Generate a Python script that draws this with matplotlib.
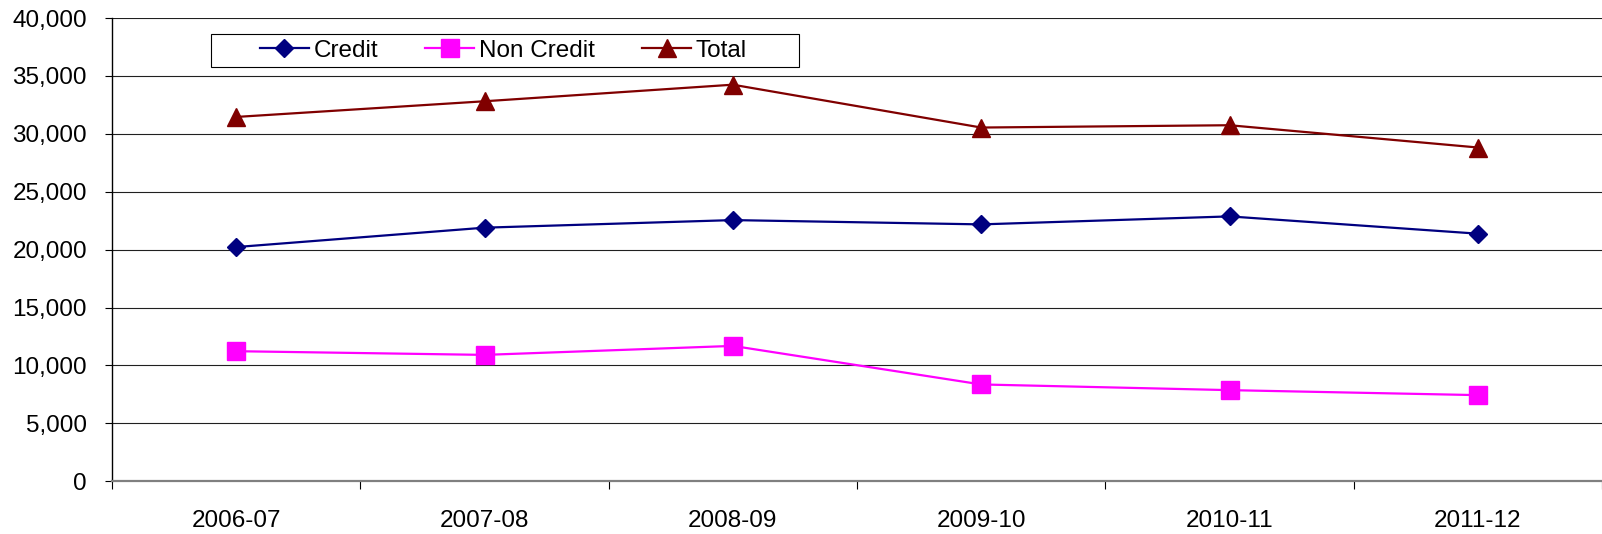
import matplotlib
matplotlib.use('Agg')
import matplotlib.pyplot as plt
from matplotlib.ticker import FixedLocator, StrMethodFormatter, NullFormatter
from matplotlib.patches import Rectangle

years = ['2006-07', '2007-08', '2008-09', '2009-10', '2010-11', '2011-12']
credit = [20224, 21897, 22552, 22181, 22871, 21379]
non_credit = [11233, 10914, 11690, 8362, 7871, 7440]
total = [31457, 32811, 34242, 30543, 30742, 28819]

plt.rcParams['font.family'] = ['Liberation Sans', 'DejaVu Sans']
plt.rcParams['font.size'] = 17.5

fig = plt.figure(figsize=(16.02, 5.34), dpi=100)
W, H = 1602, 534
ax = fig.add_axes([112 / W, (H - 481.3) / H, (W - 112) / W, (481.3 - 18) / H])

x = range(len(years))
ax.plot(x, credit, color='#000080', lw=1.6, marker='D', ms=9, label='Credit', zorder=3)
ax.plot(x, non_credit, color='#FF00FF', lw=1.6, marker='s', ms=13, label='Non Credit', zorder=3)
ax.plot(x, total, color='#800000', lw=1.6, marker='^', ms=13.5, label='Total', zorder=3)

ax.set_xlim(-0.5, len(years) - 0.5)
ax.set_ylim(0, 40000)
ax.set_yticks(range(0, 40001, 5000))
ax.yaxis.set_major_formatter(StrMethodFormatter('{x:,.0f}'))
ax.yaxis.grid(True, color='#202020', lw=0.8)
ax.set_axisbelow(True)

# category boundaries get the tick marks, labels sit between them
ax.xaxis.set_major_locator(FixedLocator([i - 0.5 for i in range(len(years) + 1)]))
ax.xaxis.set_major_formatter(NullFormatter())
ax.xaxis.set_minor_locator(FixedLocator(list(x)))
ax.set_xticklabels(years, minor=True)
ax.tick_params(axis='x', which='major', direction='out', length=5.5, width=0.8)
ax.tick_params(axis='x', which='minor', length=0, pad=21)
ax.tick_params(axis='y', direction='out', length=5, width=0.8, pad=13)

for s in ('top', 'right'):
    ax.spines[s].set_visible(False)
ax.spines['left'].set_color('black')
ax.spines['left'].set_linewidth(1)
ax.spines['bottom'].set_color('#808080')
ax.spines['bottom'].set_linewidth(1.6)

leg = ax.legend(loc='center left', bbox_to_anchor=(260 / W, 1 - 50.5 / H),
                bbox_transform=fig.transFigure, ncol=3, frameon=False,
                borderpad=0, borderaxespad=0, handlelength=2.0,
                handletextpad=0.2, columnspacing=1.95, fontsize=17.5)
fig.add_artist(Rectangle((211.5 / W, 1 - 67.4 / H), (799 - 211.5) / W, (67.4 - 33.7) / H,
                         transform=fig.transFigure, fill=False, ec='black', lw=0.8))

fig.savefig('out.png', dpi=100)
